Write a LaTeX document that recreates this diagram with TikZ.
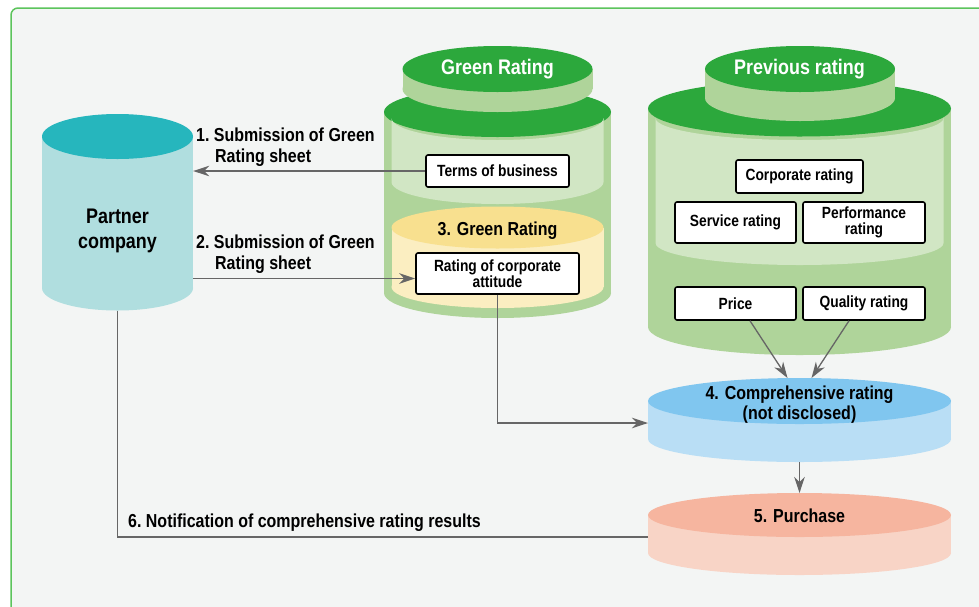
\documentclass[tikz,border=0pt]{standalone}
\usepackage{fontspec}
\setmainfont{Liberation Sans}[FakeStretch=0.85]
\usetikzlibrary{arrows.meta,positioning,calc}
\definecolor{PageGray}{RGB}{243,245,244}
\definecolor{FrameGreen}{RGB}{92,196,92}
\definecolor{DarkGreen}{RGB}{44,168,60}
\definecolor{MidGreen}{RGB}{175,212,154}
\definecolor{PaleGreen}{RGB}{209,230,196}
\definecolor{TealTop}{RGB}{38,182,189}
\definecolor{TealBody}{RGB}{176,222,223}
\definecolor{YellowTop}{RGB}{248,224,143}
\definecolor{YellowBody}{RGB}{251,238,193}
\definecolor{BlueTop}{RGB}{128,198,239}
\definecolor{BlueBody}{RGB}{185,222,245}
\definecolor{SalmonTop}{RGB}{246,181,159}
\definecolor{SalmonBody}{RGB}{248,212,198}
\definecolor{LineGray}{RGB}{102,102,102}
% drum: cx, ytop, ybot, rx, ry, top colour, body colour
\newcommand\drum[7]{%
  \fill[#7] (#1-#4,#2) rectangle (#1+#4,#3);
  \fill[#7] (#1,#3) ellipse[x radius=#4, y radius=#5];
  \fill[#6] (#1,#2) ellipse[x radius=#4, y radius=#5];}
% band: cx, rx, ytop, ybot, ry, colour
\newcommand\band[6]{%
  \fill[#6] (#1-#2,#3) arc[start angle=180, end angle=0, x radius=#2, y radius=#5]
    -- (#1+#2,#4) arc[start angle=0, end angle=180, x radius=#2, y radius=#5] -- cycle;}
\tikzset{
  rbox/.style={draw=black, fill=white, rounded corners=2pt, line width=1.6pt, align=center,
    inner sep=0pt, font=\fontsize{16.2}{16}\selectfont\bfseries},
  lbl/.style={inner sep=0pt, align=left, font=\fontsize{18.8}{21}\selectfont\bfseries},
  ttl/.style={inner sep=0pt, align=center, font=\fontsize{18.8}{20}\selectfont\bfseries},
  conn/.style={LineGray, line width=1.3pt},
  arr/.style={conn, -{Stealth[length=16pt, width=10.5pt, inset=5pt]}},
}
\begin{document}
\begin{tikzpicture}[x=1pt, y=-1pt]
  \useasboundingbox (0,0) rectangle (979,606);
  \clip (0,0) rectangle (979,606);
  \fill[white] (0,0) rectangle (979,606);
  \draw[FrameGreen, fill=PageGray, line width=1.5pt, rounded corners=7pt] (11,8) rectangle (1000,640);

  % partner company
  \drum{117.5}{136.5}{288}{75.5}{22.5}{TealTop}{TealBody}
  \node[ttl, minimum width=151pt, font=\fontsize{21.1}{25}\selectfont\bfseries] (partner) at (117.5,231) {Partner\\company};
  \coordinate (partnerbot) at (117.5,310.5);

  % green rating
  \drum{497.5}{112}{293}{113.5}{25}{DarkGreen}{MidGreen}
  \band{497.5}{106}{118}{182}{22}{PaleGreen}
  \drum{497.5}{227.5}{287}{106}{21}{YellowTop}{YellowBody}
  \drum{497.5}{69}{89}{95}{23}{DarkGreen}{MidGreen}
  \node[ttl, white, font=\fontsize{21.1}{22}\selectfont\bfseries] (greentitle) at (497.5,69.5) {Green Rating};
  \node[rbox, minimum width=143pt, minimum height=32pt] (terms) at (497.5,171) {Terms of business};
  \node[ttl] (greenstep) at (497.5,231) {3. Green Rating};
  \node[rbox, minimum width=163pt, minimum height=41pt] (attitude) at (497.5,273.5) {Rating of corporate\\attitude};

  % previous rating
  \drum{799.5}{108.5}{327}{151.5}{28}{DarkGreen}{MidGreen}
  \band{799.5}{144}{118}{243}{22}{PaleGreen}
  \drum{800}{69}{98}{95}{23}{DarkGreen}{MidGreen}
  \node[ttl, white, font=\fontsize{21.1}{22}\selectfont\bfseries] (prevtitle) at (799.5,69.5) {Previous rating};
  \node[rbox, minimum width=127pt, minimum height=33pt] (corporate) at (799.5,176.5) {Corporate rating};
  \node[rbox, minimum width=121pt, minimum height=41pt] (service) at (735.5,222.5) {Service rating};
  \node[rbox, minimum width=122pt, minimum height=41pt] (performance) at (864,222.5) {Performance\\rating};
  \node[rbox, minimum width=121pt, minimum height=33pt] (price) at (735.5,303.5) {Price};
  \node[rbox, minimum width=122pt, minimum height=33pt] (quality) at (864,303.5) {Quality rating};

  % comprehensive rating and purchase
  \drum{799.5}{401}{439}{151.5}{23}{BlueTop}{BlueBody}
  \node[ttl] (comp) at (799.5,404.5) {4. Comprehensive rating\\(not disclosed)};
  \coordinate (comptop) at (799.5,378);
  \coordinate (compwest) at (648,423);
  \coordinate (compbot) at (799.5,462);
  \drum{799.5}{515}{553}{151.5}{22}{SalmonTop}{SalmonBody}
  \node[ttl] (purchase) at (799.5,516) {5. Purchase};
  \coordinate (purchtop) at (799.5,493);
  \coordinate (purchwest) at (648,537);

  % connectors
  \draw[arr] (terms.west) -- (terms.west -| partner.east);
  \draw[arr] ([yshift=-5pt]attitude.west -| partner.east) -- ([yshift=-5pt]attitude.west);
  \draw[arr] ([xshift=14.5pt]price.south) -- ([xshift=-12pt]comptop);
  \draw[arr] ([xshift=-15pt]quality.south) -- ([xshift=12pt]comptop);
  \draw[arr] (attitude.south) |- (compwest);
  \draw[arr] (compbot) -- (purchtop);
  \draw[conn] (partnerbot) |- (purchwest);

  \node[lbl, anchor=north west] (sub1) at (196,128) {1.\ Submission of Green\\\hspace*{19pt}Rating sheet};
  \node[lbl, anchor=north west] (sub2) at (196,235) {2.\ Submission of Green\\\hspace*{19pt}Rating sheet};
  \node[lbl, anchor=base west] (notify) at (128,527) {6.\ Notification of comprehensive rating results};
\end{tikzpicture}
\end{document}
